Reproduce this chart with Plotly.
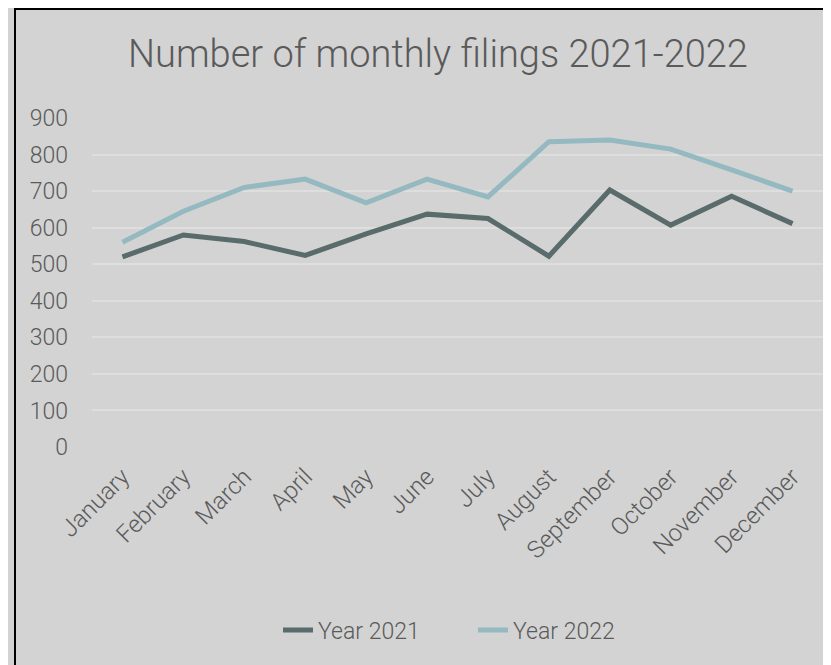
import plotly.graph_objects as go

months = ["January", "February", "March", "April", "May", "June", "July",
          "August", "September", "October", "November", "December"]
year_2021 = [520, 580, 562, 524, 583, 637, 625, 522, 703, 607, 686, 611]
year_2022 = [560, 645, 710, 733, 668, 733, 684, 835, 840, 815, 758, 700]
y_ticks = [0, 100, 200, 300, 400, 500, 600, 700, 800, 900]

TEXT = "#5a5a5a"
BG = "#d3d3d3"
GRID = "#dedede"
FONT = "Roboto"

W, H = 823, 657
L, R, T, B = 84, 8, 110, 218
PW, PH = W - L - R, H - T - B

fig = go.Figure()
fig.add_trace(go.Scatter(x=months, y=year_2021, mode="lines", name="Year 2021",
                         line=dict(color="#596b6b", width=5)))
fig.add_trace(go.Scatter(x=months, y=year_2022, mode="lines", name="Year 2022",
                         line=dict(color="#95b9c0", width=5)))

fig.update_layout(
    width=W, height=H,
    paper_bgcolor=BG, plot_bgcolor=BG,
    margin=dict(l=L, r=R, t=T, b=B),
    title=dict(text="Number of monthly filings 2021-2022",
               x=430 / W, xref="container", xanchor="center",
               y=1 - 46 / H, yref="container", yanchor="middle",
               font=dict(family=FONT, size=38, color=TEXT, weight=300)),
    font=dict(family=FONT, color=TEXT, weight=300),
    showlegend=True,
    legend=dict(orientation="h", x=(270 - L) / PW, xanchor="left",
                y=(T + PH - 622) / PH, yanchor="middle",
                entrywidth=150, entrywidthmode="pixels",
                font=dict(size=23, color=TEXT, family=FONT, weight=300),
                bgcolor="rgba(0,0,0,0)"),
    xaxis=dict(type="category", range=[-0.5, 11.5], showgrid=False, zeroline=False,
               showline=False, tickangle=-45,
               tickfont=dict(size=24, color=TEXT, family=FONT, weight=300),
               ticklabelstandoff=10, ticks=""),
    yaxis=dict(range=[0, 900], tickvals=y_ticks, showgrid=True, gridcolor=GRID,
               gridwidth=1.5, zeroline=False, showline=False,
               tickfont=dict(size=23, color=TEXT, family=FONT, weight=300),
               ticklabelstandoff=23, ticks=""),
    shapes=[dict(type="rect", xref="paper", yref="paper",
                 x0=(7 - L) / PW, x1=(W + 20 - L) / PW,
                 y0=(T + PH - (H + 20)) / PH, y1=(T + PH - 1) / PH,
                 line=dict(color="black", width=2), fillcolor="rgba(0,0,0,0)",
                 layer="below")],
)

fig.write_html("out.html")
